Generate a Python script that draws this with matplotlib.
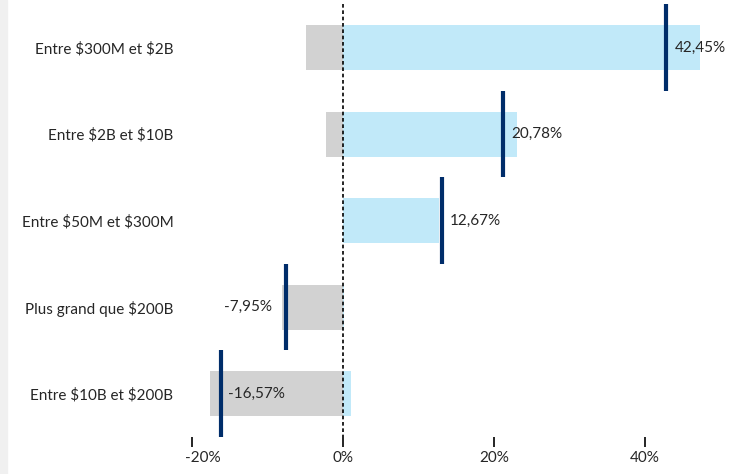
import matplotlib
matplotlib.use('Agg')
import matplotlib.pyplot as plt
import matplotlib.transforms as mtransforms
from matplotlib.patches import Rectangle

plt.rcParams['font.family'] = ['Lato', 'DejaVu Sans']
plt.rcParams['text.parse_math'] = False

# data
categories = ['Entre $300M et $2B', 'Entre $2B et $10B', 'Entre $50M et $300M',
              'Plus grand que $200B', 'Entre $10B et $200B']
neg_part = [-4.9, -2.25, 0.0, -8.05, -17.63]
pos_part = [47.35, 23.03, 12.67, 0.1, 1.06]
net = [42.45, 20.78, 12.67, -7.95, -16.57]
net_labels = ['42,45%', '20,78%', '12,67%', '-7,95%', '-16,57%']
xticks = [-20, 0, 20, 40]
xtick_labels = ['-20%', '0%', '20%', '40%']

gray = '#D2D2D2'
blue = '#C1E9F9'
navy = '#002D6A'
txt = '#262626'
fs = 11

fig = plt.figure(figsize=(7.29, 4.74), dpi=100)
fig.patches.append(Rectangle((0, 0), 7/729, 1, transform=fig.transFigure,
                             color='#F0F0F0', zorder=0))
ax = fig.add_axes([184.5/729, 37/474, 543.5/729, 437/474])

y = list(range(len(categories)))
ax.barh(y, neg_part, height=0.52, color=gray, zorder=2)
ax.barh(y, pos_part, height=0.52, color=blue, zorder=2)
ax.vlines(0, -0.5, 4.5, colors='black', linestyles=(0, (2.2, 1.6)), linewidth=1.2, zorder=3)

# net markers sit ~3px right of the exact value in the original
shift = ax.transData + mtransforms.ScaledTranslation(3/100, 0, fig.dpi_scale_trans)
ax.vlines(net, [i - 0.5 for i in y], [i + 0.5 for i in y], colors=navy, linewidth=3,
          zorder=4, transform=shift)

for i, v in enumerate(net):
    if -10 < v < 0:
        ax.annotate(net_labels[i], (v, i), xycoords=shift, xytext=(-10, 0), textcoords='offset points',
                    ha='right', va='center', fontsize=fs, color=txt, zorder=5)
    else:
        ax.annotate(net_labels[i], (v, i), xycoords=shift, xytext=(5 if v < 0 else 6, 0),
                    textcoords='offset points', ha='left', va='center', fontsize=fs, color=txt, zorder=5)

ax.set_xlim(-21, 51)
ax.set_ylim(4.5, -0.55)
ax.set_yticks(y)
ax.set_yticklabels(categories, fontsize=fs, color=txt)
ax.set_xticks(xticks)
ax.set_xticklabels(xtick_labels, fontsize=fs, color=txt)
ax.tick_params(axis='y', length=0, pad=8)
ax.tick_params(axis='x', length=7, width=1.2, color='black', pad=3, direction='out')
for s in ax.spines.values():
    s.set_visible(False)

# first tick label sits a bit right of its tick in the original
lab = ax.get_xticklabels()[0]
lab.set_transform(lab.get_transform() + mtransforms.ScaledTranslation(8/72, 0, fig.dpi_scale_trans))

fig.savefig('out.png', dpi=100)
